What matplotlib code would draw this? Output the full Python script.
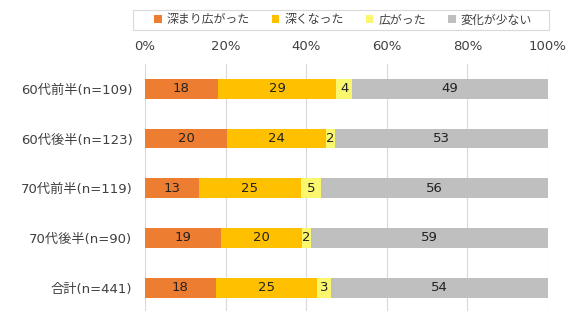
import matplotlib
matplotlib.use("Agg")
import matplotlib.pyplot as plt
from matplotlib.patches import Patch, Rectangle

plt.rcParams['font.family'] = ['DejaVu Sans', 'Noto Sans CJK JP']

categories = ["60代前半(n=109)", "60代後半(n=123)", "70代前半(n=119)", "70代後半(n=90)", "合計(n=441)"]
series_names = ["深まり広がった", "深くなった", "広がった", "変化が少ない"]
deepened_widened = [18.1, 20.4, 13.4, 18.9, 17.6]
deepened = [29.4, 24.4, 25.3, 20.1, 25.1]
widened = [3.8, 2.4, 5.0, 2.2, 3.4]
little_change = [48.7, 52.8, 56.3, 58.8, 53.9]
tick_values = [0, 20, 40, 60, 80, 100]
tick_labels = ["0%", "20%", "40%", "60%", "80%", "100%"]

colors = ["#ED7D31", "#FFC000", "#FAF76E", "#BFBFBF"]
series = [deepened_widened, deepened, widened, little_change]

FS = 9.5
TXT = '#404040'
W, H = 579, 325
fig = plt.figure(figsize=(W/100, H/100), dpi=100)
ax = fig.add_axes([145/W, 1 - 311/H, (548-145)/W, (311-64)/H])

y = list(range(len(categories)))
left = [0.0] * len(categories)
for vals, col in zip(series, colors):
    ax.barh(y, vals, left=left, height=0.4, color=col, edgecolor='none', zorder=3)
    for i, (v, l) in enumerate(zip(vals, left)):
        ax.text(l + v / 2, i, f"{round(v):d}", ha='center', va='center', fontsize=FS, color='#222222', zorder=4)
    left = [a + b for a, b in zip(left, vals)]

ax.set_xlim(0, 100)
ax.set_ylim(4.47, -0.5)
ax.set_yticks(y)
ax.set_yticklabels(categories, fontsize=FS, color=TXT)
ax.set_xticks(tick_values)
ax.set_xticklabels(tick_labels, fontsize=FS, color=TXT)
ax.xaxis.tick_top()
ax.tick_params(axis='y', length=0, pad=9)
ax.tick_params(axis='x', length=0, pad=8)
ax.grid(axis='x', color='#D9D9D9', linewidth=0.8, zorder=0)
for s in ax.spines.values():
    s.set_visible(False)

# legend frame
fig.add_artist(Rectangle((133/W, 1 - 30/H), (549-133)/W, 20/H, transform=fig.transFigure,
                         facecolor='white', edgecolor='#D9D9D9', linewidth=0.8))
handles = [Patch(facecolor=c, edgecolor='none') for c in colors]
leg = fig.legend(handles, series_names, loc='center', bbox_to_anchor=((159+527)/2/W, 1 - 20/H),
                 ncol=4, fontsize=8.6, frameon=False, labelcolor=TXT,
                 handlelength=0.6, handleheight=0.6, handletextpad=0.4, columnspacing=1.9,
                 borderpad=0.0, borderaxespad=0)

fig.savefig("out.png", dpi=100)
